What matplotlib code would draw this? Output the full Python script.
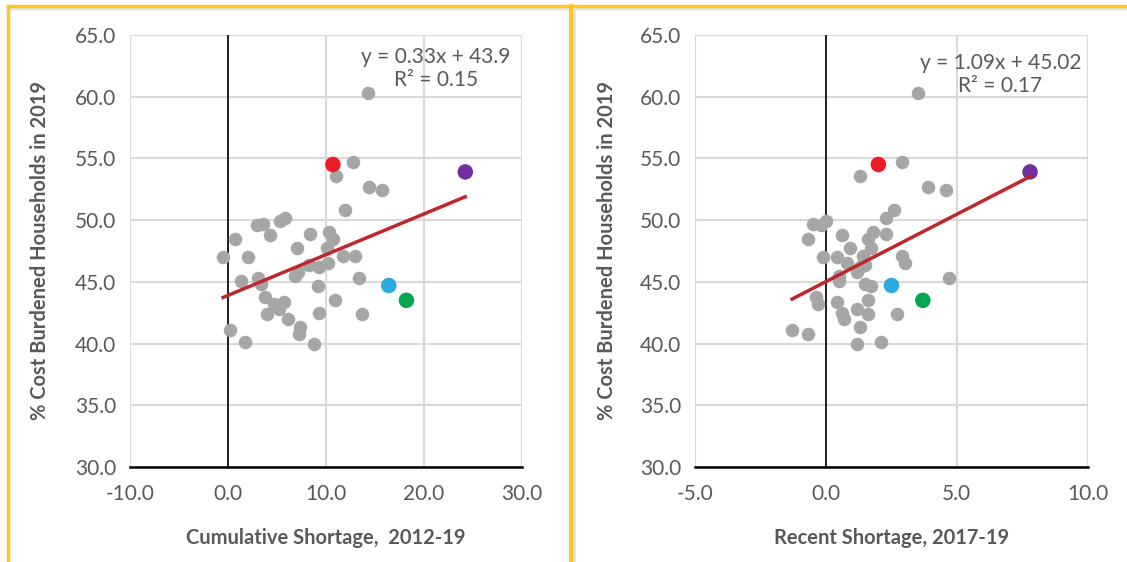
import matplotlib
matplotlib.use("Agg")
import matplotlib.pyplot as plt
from matplotlib.lines import Line2D

plt.rcParams['font.family'] = ['Lato', 'DejaVu Sans']

# cumulative shortage 2012-19 (left panel)
cum_x = [14.3, 12.7, 11.0, 14.4, 15.7, 11.9, 3.0, 3.6, 5.3, 5.8, 4.3, 0.7,
         8.4, 10.3, 10.7, -0.5, 2.0, 7.0, 10.1, 8.3, 9.3, 10.2, 11.7, 13.0,
         6.8, 7.1, 1.3, 3.1, 3.4, 13.4, 9.2, 3.8, 4.7, 5.2, 5.7, 4.0, 6.1,
         9.3, 10.9, 13.7, 0.2, 1.7, 7.3, 7.2, 8.8]
cum_y = [60.3, 54.7, 53.6, 52.7, 52.4, 50.8, 49.6, 49.7, 49.9, 50.2, 48.8, 48.5,
         48.9, 49.0, 48.5, 47.0, 47.0, 47.7, 47.7, 46.4, 46.2, 46.5, 47.1, 47.1,
         45.5, 45.8, 45.1, 45.3, 44.8, 45.3, 44.7, 43.8, 43.2, 42.8, 43.4, 42.4, 42.0,
         42.5, 43.5, 42.4, 41.1, 40.1, 41.3, 40.8, 40.0]

# recent shortage 2017-19 (right panel)
rec_x = [3.5, 2.9, 1.3, 3.9, 4.6, 2.6, 2.3, -0.5, -0.2, 0.0, -0.7, 0.6,
         1.8, 1.6, 2.3, -0.1, 0.9, 1.7, 0.4, 0.8, 1.4, 1.5, 1.3, 2.9,
         3.0, 0.5, 0.5, 1.2, 4.7, 1.5, 1.7, -0.4, -0.3, 0.4, 1.6, 0.6,
         0.7, 1.2, 1.6, 2.7, -1.3, -0.7, 1.3, 1.2, 2.1]
rec_y = [60.3, 54.7, 53.6, 52.7, 52.4, 50.8, 50.2, 49.7, 49.6, 49.9, 48.5, 48.8,
         49.0, 48.5, 48.9, 47.0, 47.7, 47.7, 47.0, 46.5, 47.1, 46.4, 46.2, 47.1,
         46.5, 45.5, 45.1, 45.8, 45.3, 44.8, 44.7, 43.8, 43.2, 43.4, 43.5, 42.5,
         42.0, 42.8, 42.4, 42.4, 41.1, 40.8, 41.3, 40.0, 40.1]

# highlighted states: red, purple, blue, green
hl_colors = ['#EE1C24', '#7030A0', '#29ABE2', '#00A650']
hl_cum_x = [10.7, 24.2, 16.4, 18.2]
hl_rec_x = [2.0, 7.8, 2.5, 3.7]
hl_y = [54.5, 53.9, 44.7, 43.5]

# trendline coefficients (from the chart labels)
cum_fit = (0.33, 43.9, 0.15)
rec_fit = (1.09, 45.02, 0.17)

text_col = '#595959'
grid_col = '#D9D9D9'


def draw_panel(ax, xs, ys, hx, fit, xlim, xstep, xlabel, eq_text, eq_pos, ylab_x):
    ax.set_xlim(*xlim)
    ax.set_ylim(30, 65)
    ax.set_xticks(range(xlim[0], xlim[1] + 1, xstep))
    ax.set_yticks(range(30, 66, 5))
    ax.xaxis.set_major_formatter(lambda v, p: f'{v:.1f}')
    ax.yaxis.set_major_formatter(lambda v, p: f'{v:.1f}')
    ax.grid(True, color=grid_col, lw=1.5, zorder=0)
    for s in ['top', 'right', 'left']:
        ax.spines[s].set_visible(False)
    ax.spines['bottom'].set_color('black')
    ax.spines['bottom'].set_linewidth(1.8)
    ax.axvline(0, color='black', lw=1.2, zorder=1.8)
    ax.tick_params(length=0, labelsize=15, labelcolor=text_col)
    ax.tick_params(axis='x', pad=12)
    ax.tick_params(axis='y', pad=10)

    ax.scatter(xs, ys, s=95, color='#A6A6A6', zorder=2, linewidths=0)
    ax.scatter(hx, hl_y, s=125, color=hl_colors, zorder=3, linewidths=0)

    slope, icpt, r2 = fit
    all_x = list(xs) + list(hx)
    x0, x1 = min(all_x), max(all_x)
    ax.plot([x0, x1], [slope * x0 + icpt, slope * x1 + icpt],
            color='#C0272D', lw=2.5, zorder=4)

    ax.text(eq_pos[0], eq_pos[1], eq_text, transform=ax.transAxes,
            ha='center', va='top', fontsize=15, color=text_col,
            multialignment='center', linespacing=1.2)

    ax.set_xlabel(xlabel, fontsize=14.5, fontweight='bold', color=text_col)
    ax.xaxis.set_label_coords(0.5, -0.14)
    ax.set_ylabel('% Cost Burdened Households in 2019', fontsize=14.5,
                  fontweight='bold', color=text_col)
    ax.yaxis.set_label_coords(ylab_x, 0.5)


fig = plt.figure(figsize=(11.27, 5.62), dpi=100)
ax1 = fig.add_axes([0.1153, 0.169, 0.348, 0.769])
ax2 = fig.add_axes([0.617, 0.169, 0.348, 0.769])

draw_panel(ax1, cum_x, cum_y, hl_cum_x, cum_fit, (-10, 30), 10,
           'Cumulative Shortage,  2012-19',
           'y = 0.33x + 43.9\nR\u00b2 = 0.15', (0.78, 0.972), -0.205)
draw_panel(ax2, rec_x, rec_y, hl_rec_x, rec_fit, (-5, 10), 5,
           'Recent Shortage, 2017-19',
           'y = 1.09x + 45.02\nR\u00b2 = 0.17', (0.778, 0.958), -0.2)

# gold frame lines around the panels
gold = '#FFC629'
shadow = '#E3E3E3'
fig.add_artist(Line2D([0.0071, 1.0], [0.9855, 0.9855], color=shadow, lw=2.5))
fig.add_artist(Line2D([0.0071, 1.0], [0.9885, 0.9885], color=gold, lw=2.5))
fig.add_artist(Line2D([0.0074, 0.0074], [0.0, 0.9885], color=gold, lw=2.5))
fig.add_artist(Line2D([0.5095, 0.5095], [0.0, 0.985], color=shadow, lw=2.0))
fig.add_artist(Line2D([0.5067, 0.5067], [0.0, 0.9885], color=gold, lw=3.0))

fig.savefig('out.png', dpi=100)
